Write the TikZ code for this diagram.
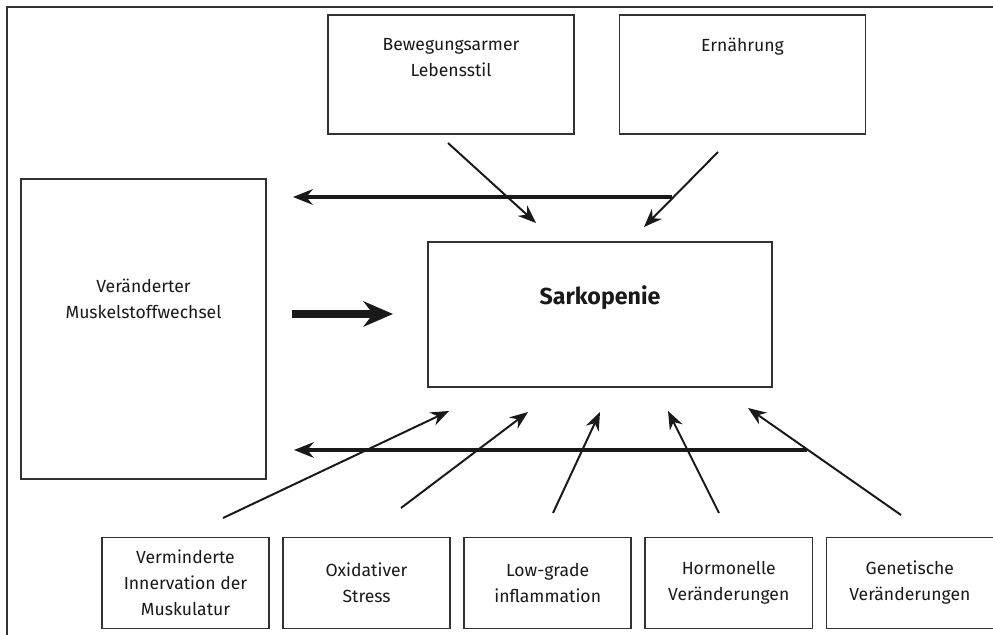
\documentclass[tikz,border=0pt]{standalone}
\usepackage{fontspec}
\setmainfont{Fira Sans}
\usetikzlibrary{positioning,arrows.meta}
\definecolor{boxline}{RGB}{50,50,50}
\definecolor{inkdark}{RGB}{25,25,25}
\tikzset{
  box/.style={draw=boxline, line width=1.1pt, inner sep=0pt, align=center,
              font=\fontsize{12.5}{18.5}\selectfont, text=inkdark},
  topbox/.style={box, minimum width=6.15cm, minimum height=2.975cm},
  factorbox/.style={box, minimum width=4.175cm, minimum height=2.275cm},
  boxtext/.style={inner sep=0pt, align=center, text=inkdark,
                  font=\fontsize{12.5}{18.5}\selectfont},
  thinarrow/.style={-{Stealth[length=13pt,width=10pt]}, line width=1.4pt, inkdark},
  longarrow/.style={-{Stealth[length=14pt,width=11pt]}, line width=2.5pt, inkdark},
  bigarrow/.style={-{Stealth[length=21pt,width=18pt]}, line width=5.8pt, inkdark},
}

\begin{document}
\begin{tikzpicture}[x=0.025cm, y=-0.025cm, node distance=0.3125cm]
  \useasboundingbox (0,0) rectangle (993,635);
  % outer frame (runs off the page right and bottom)
  \draw[boxline, line width=1.4pt] (993,7) -- (7,7) -- (7,635);

  % causes on top
  \node[topbox] (bew) at (451,74.5) {};
  \node[topbox] (ern) at (742.5,74.5) {};
  \node[boxtext, anchor=north] (bewtext) at (451,38) {Bewegungsarmer\\Lebensstil};
  \node[boxtext, anchor=north] (erntext) at (742.5,38) {Ernährung};

  % centre and left
  \node[box, minimum width=8.6cm, minimum height=3.625cm] (sark) at (600,314.5) {};
  \node[inner sep=0pt, text=inkdark, font=\fontsize{16.5}{20}\selectfont\bfseries]
       (sarktext) at (600,298) {Sarkopenie};
  \node[box, minimum width=6.125cm, minimum height=7.5cm] (musk) at (143.5,329) {};
  \node[boxtext] (musktext) at (143.5,299) {Veränderter\\Muskelstoffwechsel};

  % factors at the bottom
  \node[factorbox] (inn) at (185.5,583) {Verminderte\\Innervation der\\Muskulatur};
  \node[factorbox, right=of inn] (oxi) {Oxidativer\\Stress};
  \node[factorbox, right=of oxi] (infl) {Low-grade\\inflammation};
  \node[factorbox, right=of infl] (horm) {Hormonelle\\Veränderungen};
  \node[factorbox, right=of horm] (gen) {Genetische\\Veränderungen};

  % arrow ends
  \coordinate (bewout) at (448,143);
  \coordinate (bewin)  at (536,223);
  \coordinate (ernout) at (718,152);
  \coordinate (ernin)  at (644,227);
  \coordinate (topfrom) at (672,197);
  \coordinate (topto)   at (293,197);
  \coordinate (mskout) at (292,314);
  \coordinate (mskin)  at (393,314);
  \coordinate (botfrom) at (807,450);
  \coordinate (botto)   at (294,450);
  \coordinate (innout) at (223,518);
  \coordinate (innin)  at (449,411);
  \coordinate (oxiout) at (401,508);
  \coordinate (oxiin)  at (528,412);
  \coordinate (inflout) at (553,513);
  \coordinate (inflin)  at (600,412);
  \coordinate (hormout) at (719,513);
  \coordinate (hormin)  at (668,411);
  \coordinate (genout) at (901,515);
  \coordinate (genin)  at (748,408);

  \draw[longarrow] (topfrom) -- (topto);
  \draw[longarrow] (botfrom) -- (botto);
  \draw[thinarrow] (bewout) -- (bewin);
  \draw[thinarrow] (ernout) -- (ernin);
  \draw[bigarrow] (mskout) -- (mskin);
  \draw[thinarrow] (innout) -- (innin);
  \draw[thinarrow] (oxiout) -- (oxiin);
  \draw[thinarrow] (inflout) -- (inflin);
  \draw[thinarrow] (hormout) -- (hormin);
  \draw[thinarrow] (genout) -- (genin);
\end{tikzpicture}
\end{document}
